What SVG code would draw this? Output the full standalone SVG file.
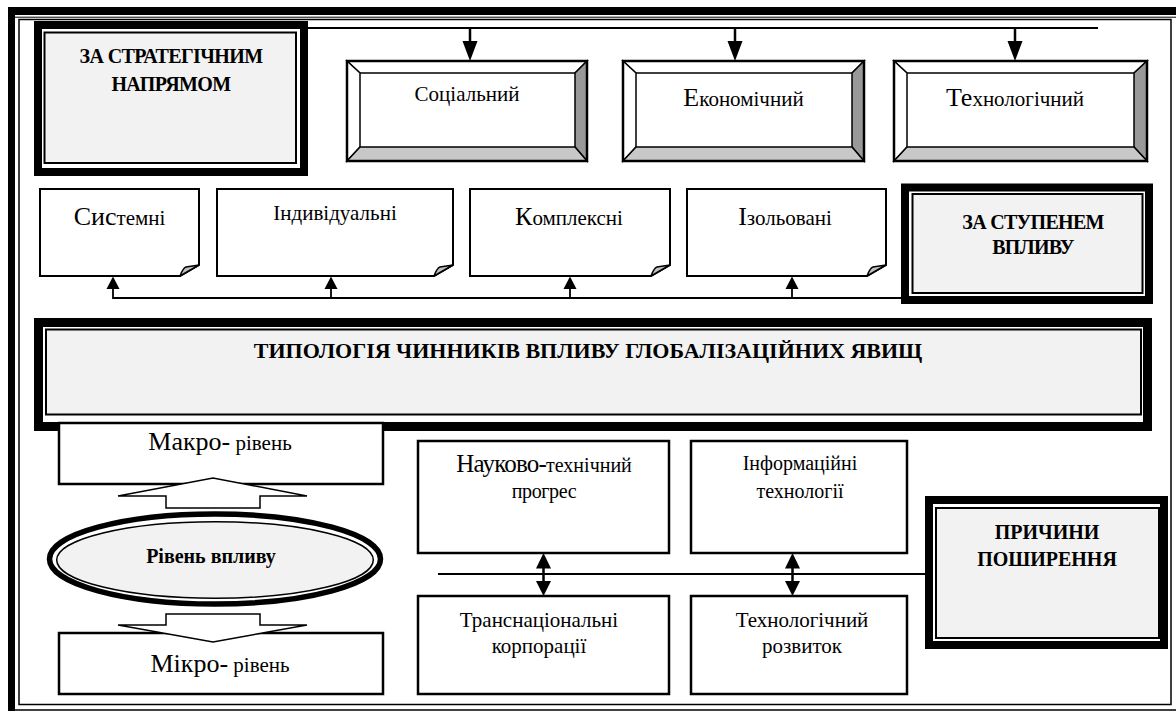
<svg xmlns="http://www.w3.org/2000/svg" width="1176" height="713" viewBox="0 0 1176 713">
<defs>
<style>
text{font-family:"Liberation Serif","Times New Roman",serif;fill:#000;text-anchor:middle}
.b{font-weight:bold}
.ln{stroke:#000;stroke-width:1.8;fill:none}
.thick{fill:none;stroke:#000;stroke-width:8}
.thin{fill:#f2f2f2;stroke:#000;stroke-width:2}
.box{fill:#fff;stroke:#000;stroke-width:2.5}
.note{fill:#fff;stroke:#000;stroke-width:2}
.fold{fill:#c0c0c0;stroke:#000;stroke-width:1.5;stroke-linejoin:round}
.bevL{fill:#fff;stroke:#000;stroke-width:1.5}
.bevR{fill:#999;stroke:#000;stroke-width:1.5}
.bevB{fill:#c8c8c8;stroke:#000;stroke-width:1.5}
.head{fill:#000}
.blk{fill:#fff;stroke:#000;stroke-width:1.5;stroke-linejoin:miter}
</style>
</defs>
<rect width="1176" height="713" fill="#fff"/>
<g id="frame">
<rect x="8" y="7" width="1168" height="8" fill="#000"/>
<rect x="8" y="7" width="7" height="704" fill="#000"/>
<rect x="19" y="19.5" width="1152" height="685" fill="none" stroke="#000" stroke-width="1.5"/>
<line x1="8" y1="710" x2="1176" y2="710" stroke="#000" stroke-width="1.5"/>
<line x1="15" y1="17.2" x2="1176" y2="17.2" stroke="#000" stroke-width="1"/>
</g>
<g id="connectors">
<line class="ln" x1="308" y1="28" x2="1098" y2="28"/>
<line x1="470" y1="28" x2="470" y2="44" stroke="#000" stroke-width="2.5"/>
<polygon class="head" points="462.5,41 477.5,41 470,61"/>
<line x1="735" y1="28" x2="735" y2="44" stroke="#000" stroke-width="2.5"/>
<polygon class="head" points="727.5,41 742.5,41 735,61"/>
<line x1="1015" y1="28" x2="1015" y2="44" stroke="#000" stroke-width="2.5"/>
<polygon class="head" points="1007.5,41 1022.5,41 1015,61"/>
<polyline class="ln" points="113,287 113,298 901,298"/>
<line class="ln" x1="331" y1="287" x2="331" y2="298"/>
<line class="ln" x1="570" y1="287" x2="570" y2="298"/>
<line class="ln" x1="792" y1="287" x2="792" y2="298"/>
<polygon class="head" points="106.5,289 119.5,289 113,276.5"/>
<polygon class="head" points="324.5,289 337.5,289 331,276.5"/>
<polygon class="head" points="563.5,289 576.5,289 570,276.5"/>
<polygon class="head" points="785.5,289 798.5,289 792,276.5"/>
<line class="ln" x1="438" y1="574" x2="925" y2="574"/>
<line x1="543.5" y1="565" x2="543.5" y2="584" stroke="#000" stroke-width="2.5"/>
<polygon class="head" points="536,568.5 551,568.5 543.5,553"/>
<polygon class="head" points="536,581 551,581 543.5,596"/>
<line x1="792.5" y1="565" x2="792.5" y2="584" stroke="#000" stroke-width="2.5"/>
<polygon class="head" points="785,568.5 800,568.5 792.5,553"/>
<polygon class="head" points="785,581 800,581 792.5,596"/>
</g>
<g id="strategic">
<rect x="38" y="25" width="266" height="147" fill="#fff" class="thick"/>
<rect x="44.5" y="32.5" width="251.5" height="130.5" class="thin"/>
<text class="b" x="171" y="63" font-size="20" letter-spacing="-0.6">ЗА СТРАТЕГІЧНИМ</text>
<text class="b" x="171" y="91" font-size="20" letter-spacing="-0.6">НАПРЯМОМ</text>
</g>
<g id="social">
<polygon class="bevL" points="347,61 587,61 575,73 360,73"/>
<polygon class="bevL" points="347,61 360,73 360,147 347,161"/>
<polygon class="bevR" points="587,61 587,161 575,147 575,73"/>
<polygon class="bevB" points="347,161 587,161 575,147 360,147"/>
<rect x="347" y="61" width="240" height="100" fill="none" stroke="#000" stroke-width="2.5"/>
<text x="467" y="101" font-size="21">Соціальний</text>
</g>
<g id="economic">
<polygon class="bevL" points="623,61 864,61 852,73 636,73"/>
<polygon class="bevL" points="623,61 636,73 636,147 623,161"/>
<polygon class="bevR" points="864,61 864,161 852,147 852,73"/>
<polygon class="bevB" points="623,161 864,161 852,147 636,147"/>
<rect x="623" y="61" width="241" height="100" fill="none" stroke="#000" stroke-width="2.5"/>
<text x="743.5" y="106" font-size="21"><tspan font-size="26">Е</tspan>кономічний</text>
</g>
<g id="technological">
<polygon class="bevL" points="894,61 1147,61 1134,73 907,73"/>
<polygon class="bevL" points="894,61 907,73 907,147 894,161"/>
<polygon class="bevR" points="1147,61 1147,161 1134,147 1134,73"/>
<polygon class="bevB" points="894,161 1147,161 1134,147 907,147"/>
<rect x="894" y="61" width="253" height="100" fill="none" stroke="#000" stroke-width="2.5"/>
<text x="1015" y="106" font-size="21"><tspan font-size="26">Те</tspan>хнологічний</text>
</g>
<g id="systemic">
<path class="note" d="M40,189 H199 V265 L180,276 H40 Z"/>
<path class="fold" d="M180,276 Q183,268 186,267 L199,265 Z"/>
<text x="119.5" y="225" font-size="21"><tspan font-size="26">Сис</tspan>темні</text>
</g>
<g id="individual">
<path class="note" d="M217,189 H453 V265 L434,276 H217 Z"/>
<path class="fold" d="M434,276 Q437,268 440,267 L453,265 Z"/>
<text x="335" y="220" font-size="21">Індивідуальні</text>
</g>
<g id="complex">
<path class="note" d="M470,189 H670 V265 L651,276 H470 Z"/>
<path class="fold" d="M651,276 Q654,268 657,267 L670,265 Z"/>
<text x="569" y="225" font-size="21"><tspan font-size="26">К</tspan>омплексні</text>
</g>
<g id="isolated">
<path class="note" d="M687,189 H886 V265 L867,276 H687 Z"/>
<path class="fold" d="M867,276 Q870,268 873,267 L886,265 Z"/>
<text x="785" y="225" font-size="21"><tspan font-size="26">І</tspan>зольовані</text>
</g>
<g id="degree">
<rect x="905" y="187.5" width="244" height="112.5" fill="#fff" class="thick"/>
<rect x="912.5" y="194" width="230" height="99" class="thin"/>
<text class="b" x="1033" y="229" font-size="20" letter-spacing="-0.7">ЗА СТУПЕНЕМ</text>
<text class="b" x="1033" y="253.5" font-size="20" letter-spacing="-0.7">ВПЛИВУ</text>
</g>
<g id="title">
<rect x="38.5" y="322.5" width="1109" height="104" fill="#fff" stroke="#000" stroke-width="9"/>
<rect x="46" y="329.5" width="1095" height="85" class="thin"/>
<text class="b" x="588" y="358" font-size="22">ТИПОЛОГІЯ ЧИННИКІВ ВПЛИВУ ГЛОБАЛІЗАЦІЙНИХ ЯВИЩ</text>
</g>
<g id="macro">
<rect x="59" y="423" width="324" height="61" class="box" stroke-width="2"/>
<text x="220" y="450" font-size="21"><tspan font-size="26">Макро-</tspan> рівень</text>
</g>
<g id="micro">
<rect x="59" y="633" width="324" height="61" class="box" stroke-width="2"/>
<text x="220" y="672" font-size="21"><tspan font-size="26">Мікро-</tspan> рівень</text>
</g>
<g id="level">
<path class="blk" d="M118,496 L213,478 L307,496 L260,496 L260,508 L166,508 L166,496 Z"/>
<ellipse cx="215" cy="559" rx="165.5" ry="45" fill="#fff" stroke="#000" stroke-width="5.5"/>
<ellipse cx="215" cy="560" rx="158.3" ry="38.3" fill="#f2f2f2" stroke="#000" stroke-width="1.5"/>
<text class="b" x="211" y="563" font-size="20">Рівень впливу</text>
<path class="blk" d="M166,614 L260,614 L260,625 L307,625 L213,642 L118,625 L166,625 Z"/>
</g>
<g id="scitech">
<rect x="418" y="441" width="251" height="112" class="box"/>
<text x="544" y="472" font-size="20"><tspan font-size="25" letter-spacing="-0.8">Науково-</tspan>технічний</text>
<text x="544" y="498" font-size="20" letter-spacing="-0.4">прогрес</text>
</g>
<g id="infotech">
<rect x="691" y="441" width="216" height="112" class="box"/>
<text x="800" y="470" font-size="20">Інформаційні</text>
<text x="800" y="498" font-size="20">технології</text>
</g>
<g id="tnc">
<rect x="418" y="596" width="251" height="98" class="box"/>
<text x="539" y="627" font-size="21">Транснаціональні</text>
<text x="539" y="653" font-size="21">корпорації</text>
</g>
<g id="techdev">
<rect x="691" y="596" width="216" height="98" class="box"/>
<text x="802" y="627" font-size="21">Технологічний</text>
<text x="802" y="653" font-size="21">розвиток</text>
</g>
<g id="causes">
<rect x="929" y="500" width="235" height="145" fill="#fff" class="thick"/>
<rect x="936" y="508" width="223" height="130" class="thin"/>
<text class="b" x="1047" y="539" font-size="20">ПРИЧИНИ</text>
<text class="b" x="1047" y="566" font-size="20">ПОШИРЕННЯ</text>
</g>
</svg>
